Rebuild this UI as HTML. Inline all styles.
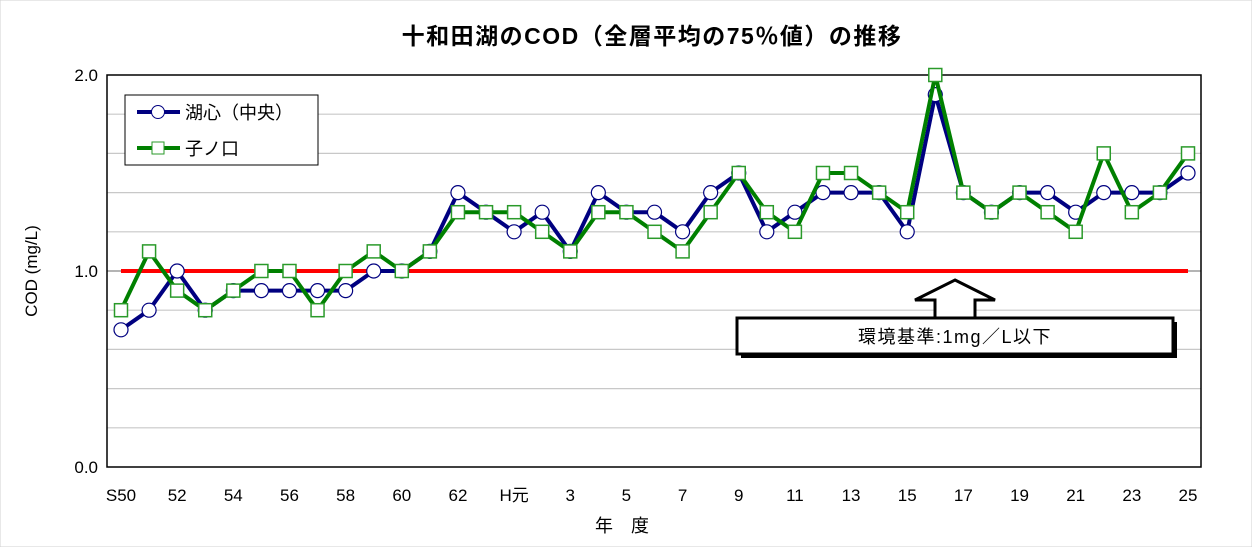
<!DOCTYPE html>
<html><head><meta charset="utf-8"><style>
body{margin:0;background:#fff;}
svg text{font-family:"Liberation Sans","Noto Sans CJK JP",sans-serif;}
</style></head><body>
<svg width="1252" height="547" viewBox="0 0 1252 547">
<rect x="0" y="0" width="1252" height="547" fill="#fff" stroke="#d0d0d0"/>
<text x="652" y="44" text-anchor="middle" font-size="23" font-weight="bold" letter-spacing="1.5">十和田湖のCOD（全層平均の75％値）の推移</text>
<g id="grid"></g>
<rect x="107" y="75" width="1094" height="392" fill="none" stroke="#000" stroke-width="1.5"/>
<g id="yticks"></g>
<text transform="translate(37,271) rotate(-90)" text-anchor="middle" font-size="17">COD (mg/L)</text>
<g id="xticks"></g>
<text x="622" y="532" text-anchor="middle" font-size="18">年　度</text>
<line id="std" x1="121" x2="1188" stroke="#ff0000" stroke-width="4"/>
<g id="series"></g>
<g>
<rect x="741" y="322" width="436" height="36" fill="#000"/>
<rect x="737" y="318" width="436" height="36" fill="#fff" stroke="#000" stroke-width="3"/>
<polygon points="955,280 995,300 975,300 975,318 935,318 935,300 915,300" fill="#fff" stroke="#000" stroke-width="3"/>
<text x="955" y="343" text-anchor="middle" font-size="18" letter-spacing="1.5">環境基準:1mg／L以下</text>
</g>
<g>
<rect x="125" y="95" width="193" height="70" fill="#fff" stroke="#000" stroke-width="1"/>
<g>
<line x1="137" x2="180" y1="112" y2="112" stroke="#000080" stroke-width="4"/>
<circle cx="158" cy="112" r="6.5" fill="#fff" stroke="#000080"/>
<text x="185" y="119" font-size="18">湖心（中央）</text></g>
<g>
<line x1="137" x2="180" y1="148" y2="148" stroke="#008000" stroke-width="4"/>
<rect x="152" y="142" width="12" height="12" fill="#fff" stroke="#2a9a2a"/>
<text x="185" y="155" font-size="18">子ノ口</text></g>
</g>
</svg>
<script>
const categories=["S50","51","52","53","54","55","56","57","58","59","60","61","62","63","H元","2","3","4","5","6","7","8","9","10","11","12","13","14","15","16","17","18","19","20","21","22","23","24","25"];
const centerValues=[0.7,0.8,1.0,0.8,0.9,0.9,0.9,0.9,0.9,1.0,1.0,1.1,1.4,1.3,1.2,1.3,1.1,1.4,1.3,1.3,1.2,1.4,1.5,1.2,1.3,1.4,1.4,1.4,1.2,1.9,1.4,1.3,1.4,1.4,1.3,1.4,1.4,1.4,1.5];
const nenokuchiValues=[0.8,1.1,0.9,0.8,0.9,1.0,1.0,0.8,1.0,1.1,1.0,1.1,1.3,1.3,1.3,1.2,1.1,1.3,1.3,1.2,1.1,1.3,1.5,1.3,1.2,1.5,1.5,1.4,1.3,2.0,1.4,1.3,1.4,1.3,1.2,1.6,1.3,1.4,1.6];
const yTickLabels=["0.0","1.0","2.0"];
const standardValue=1.0;
const NS="http://www.w3.org/2000/svg";
function xs(i){return 121+i*(1188-121)/(categories.length-1);}
function ys(v){return 467-v*196;}
function mk(tag,attrs,parent){const e=document.createElementNS(NS,tag);for(const k in attrs)e.setAttribute(k,attrs[k]);parent.appendChild(e);return e;}
const grid=document.getElementById('grid');
for(let k=1;k<10;k++){const v=k*0.2;
const g=mk('line',{x1:107,x2:1201,y1:ys(v),y2:ys(v),stroke:k==5?'#888':'#c8c8c8','stroke-width':1.2},grid);

}
const yt=document.getElementById('yticks');
yTickLabels.forEach(l=>{const t=mk('text',{x:98,y:ys(parseFloat(l))+6,'text-anchor':'end','font-size':17},yt);t.textContent=l;

});
const xt=document.getElementById('xticks');
categories.forEach((c,i)=>{if(i%2)return;const t=mk('text',{x:xs(i),y:501,'text-anchor':'middle','font-size':17},xt);t.textContent=c;

});
const std=document.getElementById('std');std.setAttribute('y1',ys(standardValue));std.setAttribute('y2',ys(standardValue));
const sg=document.getElementById('series');
function series(vals,color,name,shape){
const g=mk('g',{},sg);


const pl=mk('polyline',{points:vals.map((v,i)=>xs(i)+','+ys(v)).join(' '),fill:'none',stroke:color,'stroke-width':4,'stroke-linejoin':'round'},g);


vals.forEach((v,i)=>{let m;
if(shape=='c')m=mk('circle',{cx:xs(i),cy:ys(v),r:7,fill:'#fff',stroke:'#000080','stroke-width':1.2},g);
else m=mk('rect',{x:xs(i)-6.5,y:ys(v)-6.5,width:13,height:13,fill:'#fff',stroke:'#2a9a2a','stroke-width':1.5},g);

});}
series(centerValues,'#000080','center-series','c');
series(nenokuchiValues,'#008000','nenokuchi-series','s');
</script>
</body></html>
